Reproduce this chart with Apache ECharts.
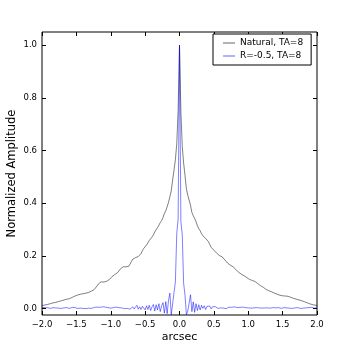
<!DOCTYPE html>
<html>
<head>
<meta charset="utf-8">
<style>
    html, body { margin: 0; padding: 0; background: #fff; }
    #chart-wrap { width: 346px; height: 347px; }
</style>
<script src="https://cdn.jsdelivr.net/npm/echarts@6/dist/echarts.min.js"></script>
</head>
<body>
<div id="chart-wrap"></div>
<script>
// offsets in arcsec
var arcsec = [
    -2.00, -1.98, -1.96, -1.94, -1.92, -1.90, -1.88, -1.86, -1.84, -1.82,
    -1.80, -1.78, -1.76, -1.74, -1.72, -1.70, -1.68, -1.66, -1.64, -1.62,
    -1.60, -1.58, -1.56, -1.54, -1.52, -1.50, -1.48, -1.46, -1.44, -1.42,
    -1.40, -1.38, -1.36, -1.34, -1.32, -1.30, -1.28, -1.26, -1.24, -1.22,
    -1.20, -1.18, -1.16, -1.14, -1.12, -1.10, -1.08, -1.06, -1.04, -1.02,
    -1.00, -0.98, -0.96, -0.94, -0.92, -0.90, -0.88, -0.86, -0.84, -0.82,
    -0.80, -0.78, -0.76, -0.74, -0.72, -0.70, -0.68, -0.66, -0.64, -0.62,
    -0.60, -0.58, -0.56, -0.54, -0.52, -0.50, -0.48, -0.46, -0.44, -0.42,
    -0.40, -0.38, -0.36, -0.34, -0.32, -0.30, -0.28, -0.26, -0.24, -0.22,
    -0.20, -0.18, -0.16, -0.14, -0.12, -0.10, -0.08, -0.06, -0.04, -0.02,
    0.00,
    0.02, 0.04, 0.06, 0.08, 0.10, 0.12, 0.14, 0.16, 0.18, 0.20,
    0.22, 0.24, 0.26, 0.28, 0.30, 0.32, 0.34, 0.36, 0.38, 0.40,
    0.42, 0.44, 0.46, 0.48, 0.50, 0.52, 0.54, 0.56, 0.58, 0.60,
    0.62, 0.64, 0.66, 0.68, 0.70, 0.72, 0.74, 0.76, 0.78, 0.80,
    0.82, 0.84, 0.86, 0.88, 0.90, 0.92, 0.94, 0.96, 0.98, 1.00,
    1.02, 1.04, 1.06, 1.08, 1.10, 1.12, 1.14, 1.16, 1.18, 1.20,
    1.22, 1.24, 1.26, 1.28, 1.30, 1.32, 1.34, 1.36, 1.38, 1.40,
    1.42, 1.44, 1.46, 1.48, 1.50, 1.52, 1.54, 1.56, 1.58, 1.60,
    1.62, 1.64, 1.66, 1.68, 1.70, 1.72, 1.74, 1.76, 1.78, 1.80,
    1.82, 1.84, 1.86, 1.88, 1.90, 1.92, 1.94, 1.96, 1.98, 2.00
];

// Natural, TA=8
var natural = [
    0.011, 0.012, 0.013, 0.014, 0.015, 0.017, 0.018, 0.020, 0.021, 0.022,
    0.023, 0.024, 0.026, 0.027, 0.029, 0.031, 0.032, 0.034, 0.035, 0.036,
    0.037, 0.039, 0.042, 0.045, 0.047, 0.049, 0.051, 0.053, 0.054, 0.055,
    0.056, 0.057, 0.058, 0.059, 0.061, 0.063, 0.066, 0.069, 0.072, 0.077,
    0.085, 0.093, 0.099, 0.101, 0.100, 0.100, 0.101, 0.103, 0.106, 0.110,
    0.115, 0.121, 0.126, 0.129, 0.132, 0.136, 0.142, 0.150, 0.156, 0.158,
    0.159, 0.158, 0.157, 0.160, 0.168, 0.178, 0.187, 0.191, 0.193, 0.195,
    0.197, 0.200, 0.208, 0.219, 0.228, 0.235, 0.241, 0.249, 0.258, 0.265,
    0.271, 0.279, 0.290, 0.299, 0.307, 0.316, 0.326, 0.334, 0.345, 0.361,
    0.371, 0.386, 0.403, 0.424, 0.447, 0.488, 0.525, 0.565, 0.625, 0.752,
    1.000,
    0.748, 0.615, 0.552, 0.505, 0.455, 0.430, 0.425, 0.392, 0.365, 0.352,
    0.342, 0.330, 0.314, 0.303, 0.295, 0.284, 0.276, 0.271, 0.266, 0.260,
    0.254, 0.243, 0.232, 0.226, 0.221, 0.215, 0.210, 0.205, 0.201, 0.199,
    0.196, 0.190, 0.184, 0.178, 0.172, 0.167, 0.164, 0.162, 0.158, 0.154,
    0.148, 0.142, 0.137, 0.133, 0.130, 0.127, 0.124, 0.121, 0.117, 0.113,
    0.110, 0.108, 0.106, 0.104, 0.102, 0.098, 0.094, 0.090, 0.086, 0.083,
    0.080, 0.076, 0.072, 0.069, 0.067, 0.065, 0.063, 0.061, 0.058, 0.056,
    0.054, 0.052, 0.050, 0.049, 0.048, 0.048, 0.047, 0.047, 0.046, 0.044,
    0.042, 0.040, 0.038, 0.037, 0.035, 0.034, 0.032, 0.030, 0.029, 0.027,
    0.025, 0.023, 0.021, 0.019, 0.017, 0.015, 0.014, 0.013, 0.012, 0.011
];

// R=-0.5, TA=8
var robust = [
    0.004, 0.002, 0.003, 0.001, 0.003, 0.002, 0.000, 0.002, 0.003, 0.001,
    0.002, 0.004, 0.001, 0.002, 0.000, 0.003, 0.002, 0.001, 0.003, 0.002,
    0.000, 0.002, 0.004, 0.001, 0.003, 0.002, 0.000, 0.002, 0.001, 0.003,
    0.000, 0.002, -0.001, 0.002, 0.001, 0.003, 0.000, 0.002, 0.004, 0.001,
    0.005, 0.009, 0.004, 0.011, 0.006, 0.002, 0.005, 0.000, 0.003, 0.006,
    0.001, -0.002, 0.003, 0.001, 0.005, 0.000, 0.003, -0.002, 0.002, 0.004,
    -0.001, 0.003, 0.000, 0.005, -0.003, 0.002, 0.006, -0.002, 0.004, 0.012,
    -0.003, 0.006, -0.004, 0.008, 0.001, -0.006, 0.010, -0.004, 0.012, -0.008,
    0.006, 0.015, -0.010, 0.014, -0.006, 0.018, -0.012, 0.010, 0.022, -0.018,
    0.026, -0.020, 0.030, 0.058, -0.024, -0.024, 0.060, 0.100, 0.285, 0.340,
    1.000,
    0.330, 0.280, 0.095, 0.050, -0.024, -0.010, 0.020, 0.052, -0.012, 0.025,
    -0.015, 0.018, -0.008, 0.014, -0.006, 0.012, 0.000, 0.010, -0.004, 0.008,
    0.002, 0.009, -0.002, 0.006, 0.001, 0.007, 0.003, 0.000, 0.005, 0.002,
    0.006, 0.001, 0.004, -0.001, 0.003, 0.005, 0.001, 0.004, 0.002, 0.006,
    0.001, 0.003, 0.000, 0.004, 0.002, 0.005, 0.001, 0.003, 0.000, 0.002,
    0.004, 0.001, 0.003, 0.002, 0.000, 0.003, 0.007, 0.002, 0.004, 0.001,
    0.003, 0.002, 0.000, 0.002, 0.004, 0.001, 0.002, 0.003, 0.000, 0.002,
    0.001, 0.003, 0.002, 0.000, 0.002, 0.003, 0.001, 0.002, 0.004, 0.001,
    0.002, 0.000, 0.003, 0.002, 0.001, 0.003, 0.002, 0.000, 0.002, 0.001,
    0.003, 0.002, 0.001, 0.003, 0.002, 0.004, 0.002, 0.001, 0.003, 0.002
];

var yTicks = [0, 0.2, 0.4, 0.6, 0.8, 1.0];
var seriesNames = ['Natural, TA=8', 'R=-0.5, TA=8'];

var font = 'DejaVu Sans';

function pairs(ys) {
    return arcsec.map(function(x, i) {
        return [x, ys[i]];
    });
}

function fmt(v) {
    // matplotlib style minus sign
    return v.toFixed(1).replace('-', '\u2212');
}

var tick = { show: true, inside: true, length: 4, lineStyle: { color: '#000', width: 1 } };
var yTick = { show: true, inside: true, length: 4, lineStyle: { color: '#000', width: 1 }, customValues: yTicks };
var noLine = { show: false, onZero: false };

var chart = echarts.init(document.getElementById('chart-wrap'), null, { renderer: 'canvas' });
chart.setOption({
    animation: false,
    backgroundColor: '#fff',
    textStyle: { fontFamily: font },
    grid: {
        left: 42, right: 29, top: 32, bottom: 32,
        outerBoundsMode: 'none',
        containLabel: false,
        show: true, borderColor: '#000', borderWidth: 1, backgroundColor: 'transparent'
    },
    legend: {
        data: seriesNames,
        orient: 'vertical',
        left: 213, top: 34,
        padding: [4, 8, 4, 10],
        icon: 'rect',
        itemWidth: 12, itemHeight: 1.2, itemGap: 3,
        backgroundColor: '#fff',
        borderColor: '#000', borderWidth: 1, borderRadius: 0,
        textStyle: { fontSize: 9, lineHeight: 10, color: '#000', fontFamily: font }
    },
    xAxis: [{
        type: 'value', min: -2, max: 2, interval: 0.5,
        name: 'arcsec', nameLocation: 'middle', nameGap: 17, nameMoveOverlap: false,
        nameTextStyle: { fontSize: 11, color: '#000', fontFamily: font },
        axisLine: noLine,
        axisTick: tick,
        splitLine: { show: false },
        axisLabel: { fontSize: 8.5, color: '#000', margin: 5, formatter: fmt }
    }, {
        type: 'value', min: -2, max: 2, interval: 0.5, position: 'top',
        axisLine: noLine, axisTick: tick,
        splitLine: { show: false }, axisLabel: { show: false }
    }],
    yAxis: [{
        type: 'value', min: -0.025, max: 1.05,
        name: 'Normalized Amplitude', nameLocation: 'middle', nameGap: 24, nameMoveOverlap: false,
        nameTextStyle: { fontSize: 11.5, color: '#000', fontFamily: font },
        axisLine: noLine,
        axisTick: yTick,
        splitLine: { show: false },
        axisLabel: { fontSize: 8.5, color: '#000', margin: 5, customValues: yTicks, formatter: fmt }
    }, {
        type: 'value', min: -0.025, max: 1.05, position: 'right',
        axisLine: noLine,
        axisTick: yTick,
        splitLine: { show: false },
        axisLabel: { show: false, customValues: yTicks }
    }],
    series: [{
        name: seriesNames[0], type: 'line', symbol: 'none',
        lineStyle: { color: 'rgba(0,0,0,0.5)', width: 1 },
        itemStyle: { color: 'rgba(0,0,0,0.5)' },
        data: pairs(natural)
    }, {
        name: seriesNames[1], type: 'line', symbol: 'none',
        lineStyle: { color: 'rgba(0,0,255,0.5)', width: 1 },
        itemStyle: { color: 'rgba(0,0,255,0.5)' },
        data: pairs(robust)
    }]
});
</script>
</body>
</html>
